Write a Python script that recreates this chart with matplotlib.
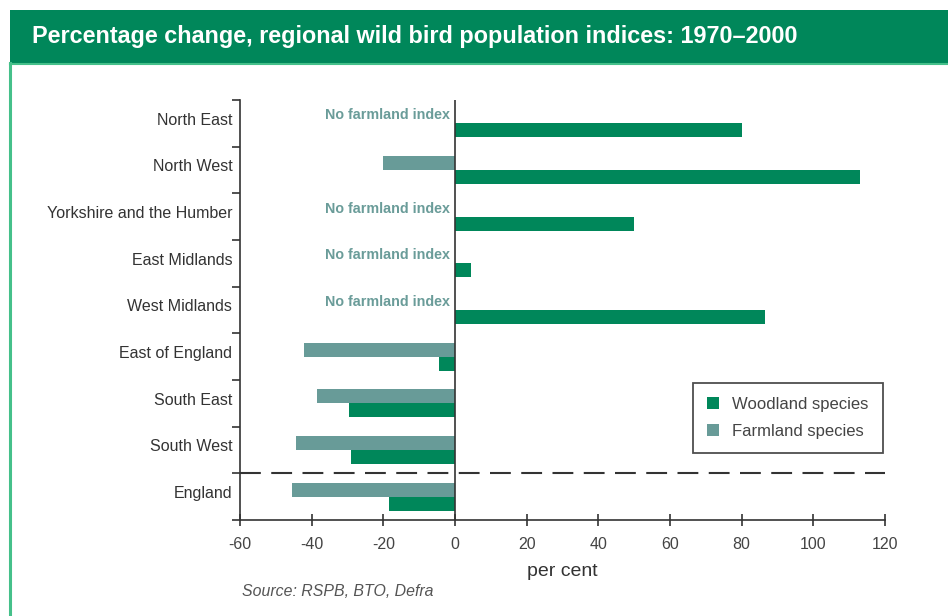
import matplotlib
matplotlib.use("Agg")
import matplotlib.pyplot as plt
from matplotlib.patches import Rectangle, Patch
from matplotlib.lines import Line2D
import numpy as np

plt.rcParams['font.family'] = ['Liberation Sans', 'DejaVu Sans']

regions = ["North East", "North West", "Yorkshire and the Humber", "East Midlands",
           "West Midlands", "East of England", "South East", "South West", "England"]
woodland = [80, 113, 50, 4.5, 86.5, -4.5, -29.7, -29.1, -18.5]
farmland = [np.nan, -20, np.nan, np.nan, np.nan, -42.1, -38.5, -44.3, -45.4]
xticks = [-60, -40, -20, 0, 20, 40, 60, 80, 100, 120]

WOOD = '#00875a'
FARM = '#689b98'
BAND = '#00875a'

W, H = 948, 616
fig = plt.figure(figsize=(W / 100, H / 100), dpi=100)

# Title band
fig.patches.append(Rectangle((10 / W, 1 - 63 / H), 1 - 10 / W, 53 / H, transform=fig.transFigure,
                             facecolor=BAND, edgecolor='none', zorder=0))
fig.lines.append(Line2D([10 / W, 1], [1 - 64 / H, 1 - 64 / H], transform=fig.transFigure,
                        color='#45c08a', lw=1.5))
fig.lines.append(Line2D([10 / W, 10 / W], [0, 1 - 63 / H], transform=fig.transFigure,
                        color='#45c08a', lw=2.2))
fig.text(32 / W, 1 - 37 / H, "Percentage change, regional wild bird population indices: 1970\u20132000",
         color='white', fontsize=16.8, fontweight='bold', va='center', ha='left')

ax = fig.add_axes([240 / W, 1 - 520 / H, 645 / W, 420 / H])
n = len(regions)
centers = np.arange(n)[::-1].astype(float)  # North East at top
h = 0.3
ax.barh(centers, farmland, height=h, align='edge', color=FARM, zorder=2, label='Farmland species')
ax.barh(centers - h, woodland, height=h, align='edge', color=WOOD, zorder=2, label='Woodland species')

for c, f in zip(centers, farmland):
    if np.isnan(f):
        ax.text(-1.3, c + 0.17, "No farmland index", ha='right', va='center', color='#6a9c99',
                fontsize=10.3, fontweight='bold')

ax.set_xlim(-60, 120)
ax.set_ylim(-0.5, n - 0.5)
ax.axvline(0, color='#333333', lw=1.2, zorder=3)
ax.axhline(0.5, color='#333333', lw=1.5, dashes=(10, 5), zorder=3)

ax.set_xticks(xticks)
ax.set_xticklabels([str(v) for v in xticks])
ax.tick_params(axis='x', direction='inout', length=9, width=1.2, colors='#333333', labelsize=11.5,
               pad=8, labelcolor='#444444')
ax.set_yticks(np.arange(-0.5, n, 1.0))
ax.set_yticklabels([])
ax.tick_params(axis='y', which='major', direction='out', length=6, width=1.2, colors='#333333')
ax.set_yticks(centers + 0.1, regions, minor=True)
ax.tick_params(axis='y', which='minor', length=0, pad=5.5, labelsize=11.5, labelcolor='#333333')

for s in ['top', 'right']:
    ax.spines[s].set_visible(False)
for s in ['left', 'bottom']:
    ax.spines[s].set_color('#333333')
    ax.spines[s].set_linewidth(1.2)

ax.set_xlabel("per cent", fontsize=14, color='#333333', labelpad=8)

handles = [Patch(facecolor=WOOD, edgecolor='none', label='Woodland species'),
           Patch(facecolor=FARM, edgecolor='none', label='Farmland species')]
leg = ax.legend(handles=handles, loc='upper left',
                bbox_to_anchor=((693 - 240) / 645, (520 - 383) / 420),
                frameon=True, fancybox=False, fontsize=12, handlelength=0.7, handleheight=0.7,
                handletextpad=0.8, borderpad=0.85, labelspacing=0.7, borderaxespad=0)
leg.get_frame().set_edgecolor('#222222')
leg.get_frame().set_linewidth(1.3)
for t in leg.get_texts():
    t.set_color('#444444')

fig.text(242 / W, 1 - 591 / H, "Source: RSPB, BTO, Defra", fontsize=11.4, style='italic',
         color='#555555', va='center', ha='left')

fig.savefig("out.png", dpi=100)
